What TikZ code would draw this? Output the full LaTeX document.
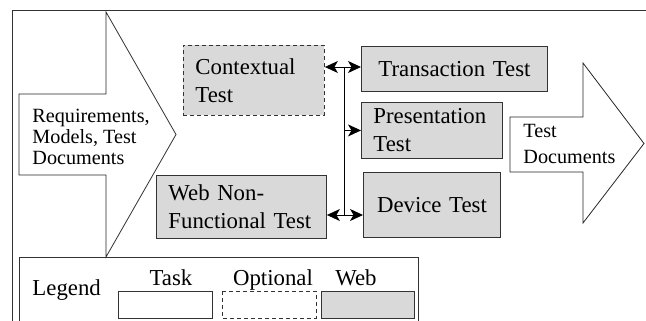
\documentclass[tikz,border=0pt]{standalone}
\usepackage{fontspec}
\setmainfont{Liberation Serif}
\usetikzlibrary{arrows.meta}
\begin{document}
\begin{tikzpicture}[x=1pt, y=-1pt, line width=0.9pt,
  boxtext/.style={font=\fontsize{22.8}{28}\selectfont},
  arrowtext/.style={inner sep=0pt, align=left, anchor=west},
  webbox/.style={draw=black!80, fill=black!15, boxtext, inner xsep=12pt,
    inner ysep=0pt, anchor=north west, align=left},
  optbox/.style={dashed, dash pattern=on 4pt off 3pt},
  flowarrow/.style={draw=black!85, line width=0.8pt, line join=miter},
  tip/.style={-{Stealth[length=13pt,width=12pt,inset=3.5pt]}},
  dbltip/.style={{Stealth[length=13pt,width=12pt,inset=3.5pt]}-{Stealth[length=13pt,width=12pt,inset=3.5pt]}},
  legendbox/.style={draw=black!80, line width=0.9pt}]
\useasboundingbox (0,0) rectangle (646,321);
\clip (0,0) rectangle (646,321);

% outer frame
\draw[black!80] (12,321) -- (12,10) -- (646,10);

% input arrow
\draw[flowarrow] (19,94) -- (106,94) -- (106,12) -- (176,134.5) -- (106,257)
  -- (106,175) -- (19,175) -- cycle;
\node[arrowtext, font=\fontsize{20.2}{21}\selectfont] (inp) at (32,137)
  {Requirements,\\Models, Test\\Documents};

% output arrow
\draw[flowarrow] (510,117) -- (583,117) -- (583,63) -- (644,143.5) -- (583,223)
  -- (583,172) -- (510,172) -- cycle;
\node[arrowtext, font=\fontsize{20.2}{26}\selectfont] (outp) at (523,143.5)
  {Test\\Documents};

% test activities
\node[webbox, optbox, minimum width=141pt, minimum height=70pt, text width=117pt]
  (ctx) at (183,45) {Contextual\\Test};
\node[webbox, minimum width=186pt, minimum height=45pt, text width=162pt, align=center]
  (trans) at (361,46) {Transaction~Test};
\node[webbox, minimum width=141pt, minimum height=56pt, text width=117pt]
  (pres) at (361,102) {Presentation\\Test};
\node[webbox, minimum width=137pt, minimum height=65pt, text width=113pt, align=center]
  (dev) at (363,172) {Device~Test};
\node[webbox, minimum width=170pt, minimum height=63pt, text width=146pt]
  (wnf) at (156,175) {Web Non-\\Functional~Test};

% connectors
\coordinate (jt) at (344.5,67);
\coordinate (jb) at (344.5,215);
\draw (jt) -- (jb);
\draw[dbltip] (ctx.east |- jt) -- (trans.west |- jt);
\draw[tip] (jt |- pres.west) -- (pres.west);
\draw[dbltip] (wnf.east |- jb) -- (dev.west |- jb);

% legend
\draw[legendbox] (19,330) -- (19,257) -- (418,257) -- (418,330);
\node[boxtext, inner sep=0pt, anchor=base west] (lg) at (32,295) {Legend};
\node[boxtext, inner sep=0pt, anchor=base] (lgtask) at (171,285) {Task};
\node[boxtext, inner sep=0pt, anchor=base] (lgopt) at (273,285) {Optional};
\node[boxtext, inner sep=0pt, anchor=base] (lgweb) at (356,285) {Web};
\draw[legendbox, fill=white] (118,291) rectangle (212,318);
\draw[legendbox, optbox] (222,291) rectangle (316,318);
\draw[legendbox, fill=black!15] (321,291) rectangle (414,318);
\end{tikzpicture}
\end{document}
